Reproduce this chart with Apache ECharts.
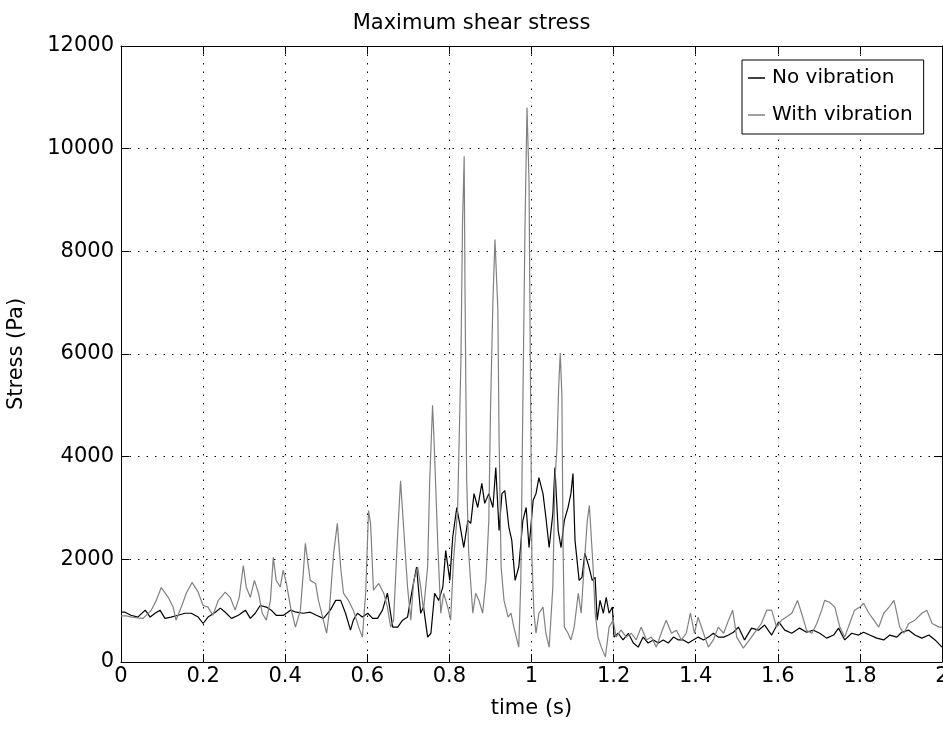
<!DOCTYPE html>
<html>
<head>
<meta charset="utf-8">
<script src="https://cdn.jsdelivr.net/npm/echarts@6/dist/echarts.min.js"></script>
<style>
html,body{margin:0;padding:0;background:#fff;}
#chart{width:943px;height:730px;}
</style>
</head>
<body>
<div id="chart"></div>
<script>
// ---- Data ----
var title = 'Maximum shear stress';
var xName = 'time (s)';
var yName = 'Stress (Pa)';
var seriesNames = ['No vibration', 'With vibration'];

var noVibT = [0.000,0.010,0.024,0.041,0.059,0.071,0.083,0.095,0.107,0.122,0.139,0.156,0.171,0.188,0.200,0.212,0.230,0.242,0.254,0.269,0.286,0.303,0.315,0.327,0.339,0.354,0.366,0.378,0.396,0.413,0.427,0.444,0.461,0.476,0.493,0.510,0.523,0.535,0.547,0.559,0.566,0.576,0.588,0.601,0.613,0.625,0.637,0.649,0.662,0.674,0.686,0.698,0.708,0.720,0.730,0.737,0.747,0.755,0.764,0.774,0.784,0.791,0.801,0.808,0.818,0.825,0.835,0.845,0.852,0.860,0.869,0.879,0.886,0.896,0.906,0.913,0.921,0.928,0.935,0.945,0.952,0.960,0.969,0.979,0.987,0.994,1.004,1.011,1.018,1.028,1.035,1.043,1.052,1.057,1.065,1.072,1.080,1.089,1.096,1.101,1.106,1.116,1.123,1.130,1.140,1.148,1.155,1.160,1.167,1.175,1.182,1.189,1.197,1.201,1.211,1.223,1.236,1.248,1.260,1.272,1.284,1.297,1.309,1.321,1.333,1.346,1.358,1.370,1.382,1.394,1.406,1.419,1.431,1.443,1.455,1.468,1.480,1.492,1.504,1.519,1.536,1.553,1.568,1.585,1.602,1.617,1.634,1.653,1.670,1.687,1.702,1.719,1.736,1.748,1.763,1.780,1.797,1.809,1.824,1.841,1.858,1.873,1.890,1.902,1.919,1.934,1.951,1.968,1.983,2.000];
var noVibV = [970,970,910,875,1010,875,950,1010,850,875,910,950,950,875,750,875,970,1050,970,850,910,1010,850,950,1100,1070,1010,910,910,1010,970,950,970,910,850,1010,1200,1200,950,620,815,950,875,950,850,850,1010,1340,680,680,815,875,1340,1850,950,1070,485,560,1340,1200,1460,2170,1590,2430,3010,2700,2230,2760,2700,3280,3010,3480,3090,3280,3010,3790,2560,3280,3340,2620,2370,1590,1850,2760,3010,2230,3150,3280,3590,3280,2820,2230,2890,3790,2560,2230,2760,3010,3280,3670,2370,1590,1650,2120,1850,1590,1650,815,1200,950,1260,950,1070,485,560,430,560,370,290,485,370,430,370,430,370,485,430,430,370,430,485,430,485,560,485,485,525,580,680,430,660,620,720,525,780,620,560,660,580,620,560,465,525,660,430,560,525,580,525,465,430,525,485,580,620,525,465,525,430,290];

var withVibT = [0.000,0.012,0.024,0.041,0.054,0.073,0.086,0.098,0.115,0.127,0.134,0.147,0.159,0.173,0.188,0.200,0.212,0.224,0.237,0.254,0.266,0.278,0.288,0.298,0.305,0.315,0.325,0.335,0.344,0.354,0.364,0.371,0.378,0.388,0.395,0.403,0.413,0.425,0.437,0.444,0.449,0.461,0.474,0.481,0.493,0.501,0.507,0.518,0.527,0.535,0.542,0.554,0.566,0.579,0.588,0.596,0.603,0.608,0.615,0.628,0.640,0.649,0.657,0.664,0.674,0.681,0.689,0.698,0.706,0.713,0.723,0.730,0.737,0.747,0.752,0.759,0.762,0.772,0.779,0.786,0.796,0.803,0.810,0.820,0.828,0.832,0.836,0.838,0.842,0.847,0.857,0.864,0.872,0.881,0.889,0.896,0.900,0.906,0.911,0.915,0.918,0.921,0.926,0.933,0.943,0.950,0.957,0.969,0.974,0.979,0.984,0.989,0.994,0.997,1.001,1.006,1.011,1.018,1.028,1.035,1.043,1.052,1.057,1.062,1.066,1.070,1.074,1.077,1.080,1.089,1.096,1.104,1.114,1.121,1.128,1.136,1.141,1.150,1.155,1.162,1.170,1.180,1.189,1.199,1.206,1.218,1.231,1.243,1.255,1.267,1.280,1.292,1.304,1.316,1.328,1.341,1.353,1.365,1.377,1.387,1.397,1.406,1.419,1.431,1.443,1.455,1.468,1.480,1.490,1.500,1.516,1.531,1.548,1.560,1.573,1.585,1.597,1.609,1.621,1.634,1.648,1.658,1.670,1.683,1.695,1.707,1.714,1.726,1.739,1.751,1.763,1.775,1.787,1.800,1.809,1.822,1.834,1.846,1.858,1.871,1.883,1.890,1.897,1.907,1.919,1.934,1.951,1.963,1.976,1.993,2.000];
var withVibV = [900,900,880,860,850,1000,1200,1450,1260,1070,815,1070,1340,1550,1360,1100,1070,910,1200,1360,1260,1010,1260,1880,1460,1260,1590,1340,950,815,1200,2040,1590,1460,1790,1530,1070,680,1010,1730,2310,1590,1530,1200,815,560,950,2120,2700,1850,1340,1200,1010,680,485,1340,2950,2700,1400,1530,1340,1070,680,815,2500,3530,2560,1460,815,1590,1850,1460,1010,1850,3530,5000,4450,2230,950,1340,1070,815,1980,2950,5860,8550,9850,7260,3590,2120,950,1340,1200,950,1590,2760,4850,7030,8230,8230,6870,4370,1850,1200,875,950,680,290,1590,5050,8390,10800,9360,6000,2000,950,560,950,1070,560,290,1460,3530,4170,5320,6020,5190,2230,680,560,430,680,1340,950,1850,2760,3050,1850,950,485,290,100,680,815,485,620,485,560,430,680,430,485,290,560,815,560,620,430,560,950,560,875,560,290,430,680,560,815,1010,485,270,430,620,750,1010,1010,680,815,875,950,1200,950,620,560,750,1010,1200,1165,1070,680,485,750,1010,1070,1145,950,815,680,950,1070,1200,950,680,560,750,815,950,1010,750,680,680];

var xMin = 0, xMax = 2, xStep = 0.2;
var yMin = 0, yMax = 12000, yStep = 2000;

function pairs(t, v){ return t.map(function(x,i){ return [x, v[i]]; }); }

var FONT = "'DejaVu Sans', 'Liberation Sans', sans-serif";
var chart = echarts.init(document.getElementById('chart'), null, {renderer:'canvas'});

var gridDash = {color:'#000', width:1, type:[1.5,7]};
function xAx(pos, showLabel){
  return {
    type:'value', position:pos, min:xMin, max:xMax, interval:xStep,
    axisLine:{show:true, onZero:false, lineStyle:{color:'#000', width:1}},
    axisTick:{show:true, inside:true, length:8, lineStyle:{color:'#000'}},
    axisLabel:{show:showLabel, color:'#000', fontFamily:FONT, fontSize:21, margin:4,
      formatter:function(v){ return String(Math.round(v*10)/10); }},
    splitLine:{show:showLabel, lineStyle:gridDash},
    name: showLabel ? xName : '', nameLocation:'middle', nameGap:36,
    nameTextStyle:{color:'#000', fontFamily:FONT, fontSize:21}
  };
}
function yAx(pos, showLabel){
  return {
    type:'value', position:pos, min:yMin, max:yMax, interval:yStep,
    axisLine:{show:true, onZero:false, lineStyle:{color:'#000', width:1}},
    axisTick:{show:true, inside:true, length:8, lineStyle:{color:'#000'}},
    axisLabel:{show:showLabel, color:'#000', fontFamily:FONT, fontSize:21, margin:7,
      formatter:function(v){ return String(Math.round(v)); }},
    splitLine:{show:showLabel, lineStyle:gridDash},
    name: showLabel ? yName : '', nameLocation:'middle', nameGap:94, nameRotate:90,
    nameTextStyle:{color:'#000', fontFamily:FONT, fontSize:21}
  };
}

chart.setOption({
  animation:false,
  backgroundColor:'#fff',
  title:{text:title, left:'center', top:8,
    textStyle:{color:'#000', fontFamily:FONT, fontSize:21, fontWeight:'normal'}},
  grid:{left:121, right:1, top:46, bottom:68, containLabel:false, outerBoundsMode:'none'},
  legend:{
    orient:'vertical', left:742, top:60,
    backgroundColor:'#fff', borderColor:'#000', borderWidth:1,
    padding:[7,11,8,6], itemGap:15, itemWidth:17, itemHeight:1.5,
    icon:'rect',
    textStyle:{color:'#000', fontFamily:FONT, fontSize:20, lineHeight:22, padding:[0,0,0,2]},
    data:seriesNames
  },
  xAxis:[xAx('bottom', true), xAx('top', false)],
  yAxis:[yAx('left', true), yAx('right', false)],
  series:[
    {name:seriesNames[0], type:'line', xAxisIndex:0, yAxisIndex:0, symbol:'none',
      data:pairs(noVibT, noVibV), lineStyle:{color:'#000', width:1.2}, itemStyle:{color:'#000'}, z:3},
    {name:seriesNames[1], type:'line', xAxisIndex:0, yAxisIndex:0, symbol:'none',
      data:pairs(withVibT, withVibV), lineStyle:{color:'#808080', width:1.2}, itemStyle:{color:'#808080'}, z:4}
  ]
});
</script>
</body>
</html>
